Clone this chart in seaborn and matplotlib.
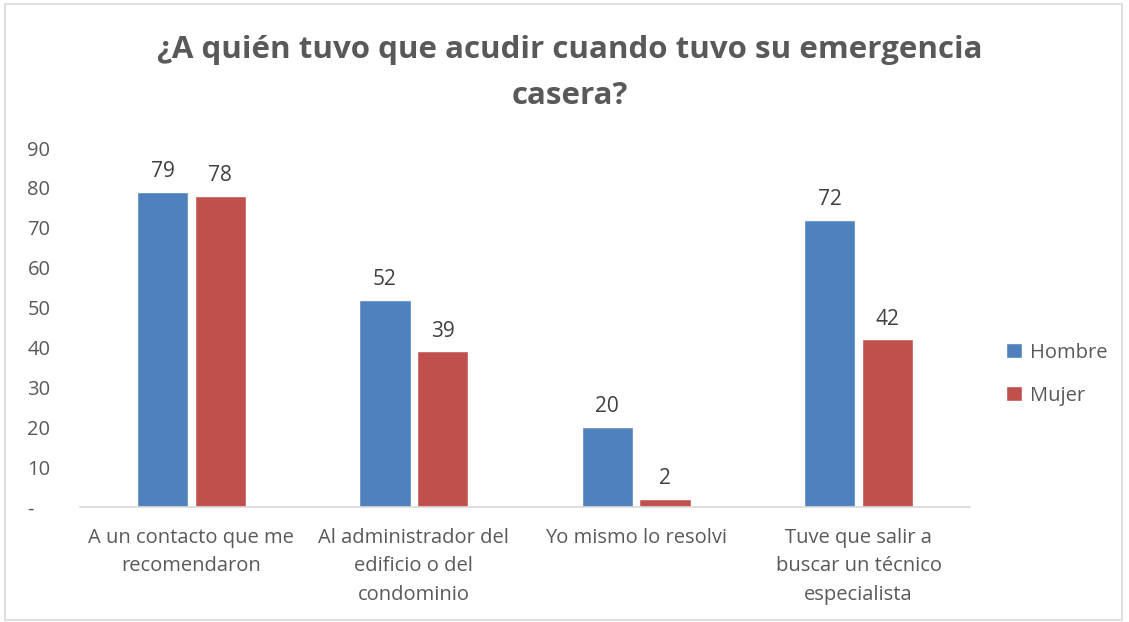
import pandas as pd
import seaborn as sns
import matplotlib.pyplot as plt

categorias = ['A un contacto que me\nrecomendaron',
              'Al administrador del\nedificio o del\ncondominio',
              'Yo mismo lo resolvi',
              'Tuve que salir a\nbuscar un técnico\nespecialista']
hombre = [79, 52, 20, 72]
mujer = [78, 39, 2, 42]

df = pd.DataFrame({
    'categoria': categorias * 2,
    'valor': hombre + mujer,
    'genero': ['Hombre'] * 4 + ['Mujer'] * 4,
})

sns.set_style('white')
plt.rcParams['font.family'] = ['Open Sans', 'DejaVu Sans']
gris = '#595959'

fig = plt.figure(figsize=(11.29, 6.22), dpi=100)
ax = fig.add_axes([0.071, 0.185, 0.788, 0.577])

sns.barplot(data=df, x='categoria', y='valor', hue='genero',
            palette={'Hombre': '#4F81BD', 'Mujer': '#C0504D'},
            width=0.52, gap=0.11, saturation=1, ax=ax)

for cont in ax.containers:
    ax.bar_label(cont, padding=7, fontsize=15, color='#404040')

ax.set_ylim(0, 90)
ax.set_yticks(range(0, 91, 10))
ax.set_yticklabels(['-'] + [str(v) for v in range(10, 91, 10)], fontsize=14.5, color=gris)
ax.tick_params(axis='x', labelsize=14.5, labelcolor=gris, pad=15, length=0)
ax.tick_params(axis='y', length=0, pad=38)
for lbl in ax.get_yticklabels():
    lbl.set_horizontalalignment('left')
for lbl in ax.get_xticklabels():
    lbl.set_linespacing(1.58)
ax.set_xlabel('')
ax.set_ylabel('')
for s in ['top', 'right', 'left']:
    ax.spines[s].set_visible(False)
ax.spines['bottom'].set_color('#D9D9D9')
ax.spines['bottom'].set_linewidth(1.2)

fig.text(0.505, 0.882, '¿A quién tuvo que acudir cuando tuvo su emergencia\ncasera?',
         fontsize=22.5, fontweight='bold', color=gris, ha='center', va='center',
         linespacing=1.7, multialignment='center')

leg = ax.legend(loc='center left', bbox_to_anchor=(1.02, 0.37), frameon=False,
                fontsize=14.5, handlelength=0.8, handleheight=0.8,
                labelspacing=1.15, handletextpad=0.4)
for t in leg.get_texts():
    t.set_color(gris)

fig.patches.append(plt.Rectangle((0.004, 0.004), 0.99, 0.99, transform=fig.transFigure,
                                 fill=False, edgecolor='#D9D9D9', linewidth=1.2))

fig.savefig('out.png', dpi=100)
